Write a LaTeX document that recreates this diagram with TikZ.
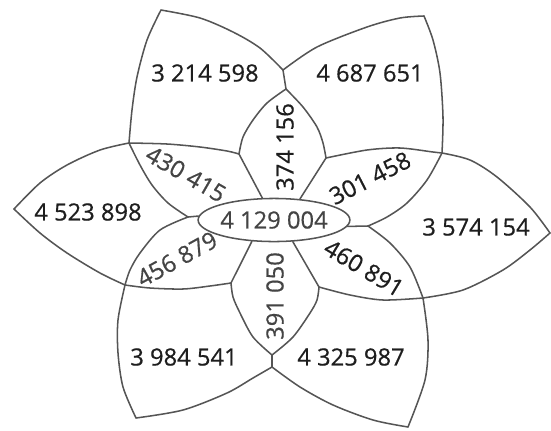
\documentclass[tikz,border=0pt]{standalone}
\usepackage{fontspec}
\setmainfont{Open Sans}
\newfontfamily\numfont{Open Sans}[FakeBold=0.6]
\usetikzlibrary{shapes.geometric}
\definecolor{linegray}{HTML}{555555}
\definecolor{txtdark}{HTML}{1E1E1E}
\definecolor{txtgray}{HTML}{444444}
\begin{document}
\begin{tikzpicture}[x=0.75pt,y=-0.75pt,
  edge/.style={draw=linegray,line width=1.15pt,line join=round,line cap=round},
  num/.style={text=txtdark,inner sep=0pt,font=\numfont\fontsize{17.8}{20}\selectfont},
  numg/.style={num,text=txtgray}]
\useasboundingbox (0,0) rectangle (551,430);
% outer tips
\coordinate (A) at (161,10);
\coordinate (B) at (424,16);
\coordinate (C) at (550,233);
\coordinate (D) at (408,427);
\coordinate (E) at (136,418);
\coordinate (F) at (14,209);
% notches
\coordinate (N1) at (283,70);
\coordinate (N1b) at (286,89);
\coordinate (N2) at (272,367);
\coordinate (N2b) at (272,355);
% crossings
\coordinate (X1) at (129,143);
\coordinate (X2) at (442,153);
\coordinate (X3) at (423,298);
\coordinate (X4) at (125,285);
% lens corners
\coordinate (L1) at (239,154);
\coordinate (L2) at (326,158);
\coordinate (L3) at (231,283);
\coordinate (L4) at (319,287);
% side junctions
\coordinate (ML) at (188,217);
\coordinate (MR) at (368,226);
% centre ellipse
\node[ellipse,draw=linegray,line width=1.15pt,inner sep=0pt,
      minimum width=97.5pt,minimum height=32.3pt,
      text=txtgray,font=\numfont\fontsize{17.8}{20}\selectfont] (ctr) at (274,220) {4 129 004};
\begin{scope}[edge]
\draw plot[smooth] coordinates {(A) (200,18) (233,32) (260,48) (N1)};
\draw plot[smooth] coordinates {(N1) (317,47) (367,27) (400,18) (B)};
\draw (N1) -- (N1b);
\draw plot[smooth] coordinates {(N1b) (267,103) (253,120) (243,137) (L1)};
\draw plot[smooth] coordinates {(N1b) (303,107) (317,127) (323,143) (L2)};
\draw (L1) -- (ctr.118);
\draw (L2) -- (ctr.39);
\draw plot[smooth] coordinates {(A) (147,40) (137,77) (132,110) (X1)};
\draw plot[smooth] coordinates {(X1) (167,144) (200,147) (227,151) (L1)};
\draw plot[smooth] coordinates {(X1) (140,165) (152,185) (168,203) (ML)};
\draw plot[smooth] coordinates {(F) (40,183) (67,165) (100,150) (X1)};
\draw plot[smooth] coordinates {(F) (40,233) (67,253) (100,273) (X4)};
\draw plot[smooth] coordinates {(ML) (160,230) (140,253) (130,270) (X4)};
\draw plot[smooth] coordinates {(X4) (150,288) (183,289) (210,286) (L3)};
\draw plot[smooth] coordinates {(X4) (118,320) (118,353) (123,387) (E)};
\draw plot[smooth] coordinates {(E) (183,410) (227,393) (253,378) (N2)};
\draw plot[smooth] coordinates {(N2) (300,387) (333,405) (373,420) (D)};
\draw (N2) -- (N2b);
\draw plot[smooth] coordinates {(N2b) (253,337) (240,313) (233,297) (L3)};
\draw plot[smooth] coordinates {(N2b) (293,337) (310,313) (317,300) (L4)};
\draw (L3) -- (ctr.224);
\draw (L4) -- (ctr.311);
\draw plot[smooth] coordinates {(D) (425,380) (428,340) (X3)};
\draw plot[smooth] coordinates {(X3) (383,300) (350,295) (L4)};
\draw plot[smooth] coordinates {(X3) (410,267) (390,243) (MR)};
\draw plot[smooth] coordinates {(X3) (463,290) (503,270) (530,250) (C)};
\draw plot[smooth] coordinates {(C) (530,207) (497,177) (470,160) (X2)};
\draw plot[smooth] coordinates {(X2) (427,180) (407,203) (387,217) (MR)};
\draw plot[smooth] coordinates {(X2) (433,152) (400,148) (367,150) (L2)};
\draw plot[smooth] coordinates {(X2) (443,117) (440,73) (433,40) (B)};
\draw (ML) -- (ctr.177);
\draw (MR) -- (ctr.355);
\end{scope}
% labels
\node[num] (t1) at (205,73) {3 214 598};
\node[num] (t2) at (370,73) {4 687 651};
\node[num] (t3) at (88,212) {4 523 898};
\node[num] (t4) at (476,227) {3 574 154};
\node[num] (t5) at (184,357) {3 984 541};
\node[num] (t6) at (351,357) {4 325 987};
\node[num,rotate=90] (t7) at (285,147) {374 156};
\node[numg,rotate=-30] (t8) at (186,174) {430 415};
\node[num,rotate=27] (t9) at (370,178) {301 458};
\node[numg,rotate=29] (t10) at (177,259) {456 879};
\node[numg,rotate=90] (t11) at (275,296) {391 050};
\node[num,rotate=-31] (t12) at (364,268) {460 891};
\end{tikzpicture}
\end{document}
